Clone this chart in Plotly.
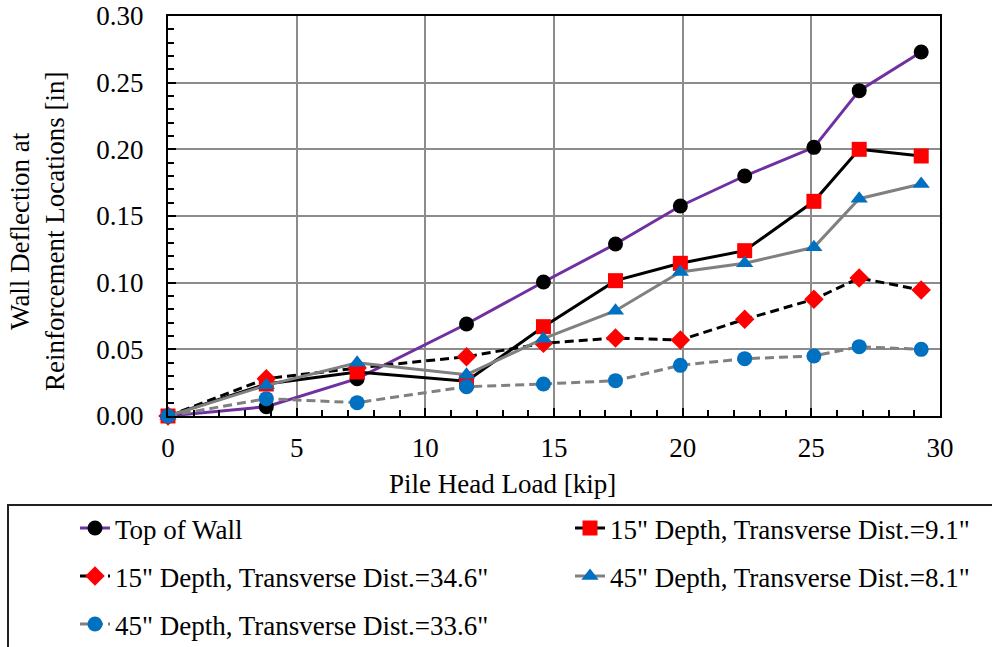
import plotly.graph_objects as go

load = [0, 3.82, 7.35, 11.6, 14.59, 17.39, 19.91, 22.41, 25.10, 26.86, 29.27]
top_wall = [0, 0.007, 0.028, 0.069, 0.1005, 0.129, 0.1575, 0.180, 0.2015, 0.244, 0.273]
d15_t91 = [0, 0.024, 0.033, 0.026, 0.067, 0.1015, 0.1145, 0.124, 0.161, 0.200, 0.195]
d15_t346 = [0, 0.028, 0.036, 0.0445, 0.0545, 0.0585, 0.057, 0.0725, 0.0875, 0.1035, 0.0945]
d45_t81 = [0, 0.023, 0.040, 0.031, 0.058, 0.079, 0.108, 0.1145, 0.1265, 0.163, 0.174]
d45_t336 = [0, 0.013, 0.010, 0.022, 0.024, 0.0265, 0.038, 0.043, 0.045, 0.052, 0.050]

names = [
    "Top of Wall",
    "15\" Depth, Transverse Dist.=9.1\"",
    "15\" Depth, Transverse Dist.=34.6\"",
    "45\" Depth, Transverse Dist.=8.1\"",
    "45\" Depth, Transverse Dist.=33.6\"",
]

FONT = "Liberation Serif, Times New Roman, serif"
FS = 27
W, H = 992, 647
L, R, T, B = 168, 940, 16, 416
pw, ph = R - L, B - T

def px(x):
    return (x - L) / pw

def py(y):
    return (B - y) / ph

fig = go.Figure()
specs = [
    (top_wall, dict(color="#7030A0", width=3), dict(symbol="circle", size=15, color="black"), "legend"),
    (d15_t91, dict(color="black", width=3), dict(symbol="square", size=15, color="#FF0000"), "legend2"),
    (d15_t346, dict(color="black", width=3, dash="9px,5px"), dict(symbol="diamond", size=15, color="#FF0000"), "legend3"),
    (d45_t81, dict(color="#808080", width=3), dict(symbol="triangle-up", size=15, color="#0070C0"), "legend4"),
    (d45_t336, dict(color="#808080", width=3, dash="9px,5px"), dict(symbol="circle", size=15, color="#0070C0"), "legend5"),
]
for (vals, line, marker, lg), name in zip(specs, names):
    fig.add_trace(go.Scatter(x=load, y=vals, mode="lines+markers", name=name,
                             line=line, marker=marker, cliponaxis=False, legend=lg,
                             showlegend=True))

# legend positions (text-left px, row center px)
row_c = [528, 576, 624]
col_text = [115, 610]
item_h = FS * 1.3 + 3
leg_pos = {
    "legend": (col_text[0], row_c[0]),
    "legend2": (col_text[1], row_c[0]),
    "legend3": (col_text[0], row_c[1]),
    "legend4": (col_text[1], row_c[1]),
    "legend5": (col_text[0], row_c[2]),
}
leg_layout = {}
for k, (tx, cy) in leg_pos.items():
    leg_layout[k] = dict(
        x=px(tx - 40), y=py(cy - item_h / 2 - 5), xanchor="left", yanchor="top",
        bgcolor="rgba(0,0,0,0)", borderwidth=0, visible=True,
        font=dict(family=FONT, size=FS, color="black"),
    )

axis_common = dict(
    showline=True, linecolor="black", linewidth=2, mirror=True,
    showgrid=True, gridcolor="#8C8C8C", gridwidth=1.5,
    ticks="inside", tickcolor="black", tickwidth=1.5, ticklen=8,
    tickfont=dict(family=FONT, size=FS, color="black"),
    zeroline=False,
)

fig.update_layout(
    width=W, height=H, showlegend=True,
    margin=dict(l=L, r=W - R, t=T, b=H - B, autoexpand=False),
    paper_bgcolor="white", plot_bgcolor="white",
    font=dict(family=FONT, size=FS, color="black"),
    xaxis=dict(range=[0, 30], dtick=5, tick0=0, ticklabelstandoff=7,
               minor=dict(dtick=1, ticks="inside", ticklen=6, tickcolor="black", showgrid=False),
               **axis_common),
    yaxis=dict(range=[0, 0.30], dtick=0.05, tick0=0, tickformat=".2f", ticklabelstandoff=17,
               minor=dict(dtick=0.01, ticks="inside", ticklen=6, tickcolor="black", showgrid=False),
               **axis_common),
    annotations=[
        dict(text="Pile Head Load [kip]", xref="paper", yref="paper", x=px(502), y=py(484),
             xanchor="center", yanchor="middle", showarrow=False,
             font=dict(family=FONT, size=FS, color="black")),
        dict(text="Wall Deflection at<br>Reinforcement Locations [in]", xref="paper", yref="paper",
             x=px(37), y=py(232), xanchor="center", yanchor="middle", showarrow=False, textangle=-90,
             font=dict(family=FONT, size=FS, color="black")),
    ],
    shapes=[
        dict(type="rect", xref="paper", yref="paper", x0=px(8), x1=px(1010), y0=py(505), y1=py(700),
             line=dict(color="#202020", width=2), fillcolor="rgba(0,0,0,0)", layer="below"),
    ],
    **leg_layout,
)

fig.write_html("out.html", config={"displayModeBar": False},
               post_script="document.body.style.margin='0';document.body.style.overflow='hidden';")
